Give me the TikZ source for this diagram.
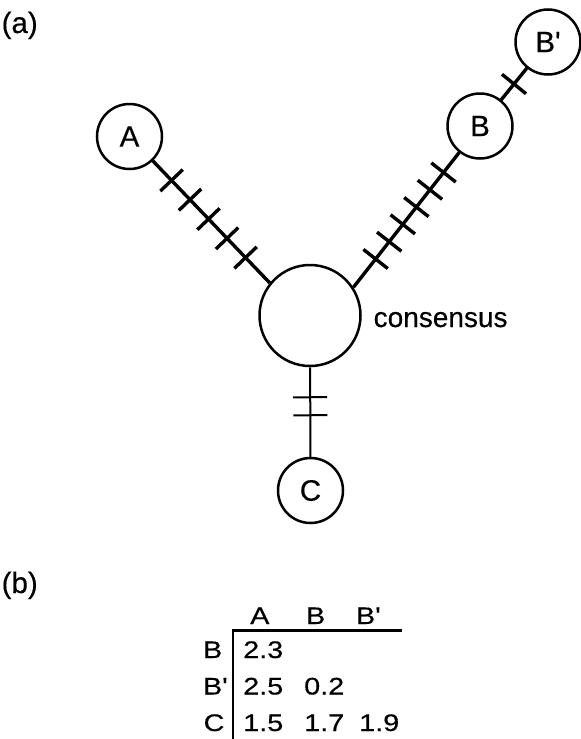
\documentclass[tikz,border=0pt]{standalone}
\usepackage{fontspec}
\usepackage{graphicx}
\newfontfamily\hv{Liberation Sans}[FakeBold=0.4]
\newcommand\lblfont{\hv\fontsize{29.5}{32}\selectfont}
\newcommand\tbfont{\hv\fontsize{24}{26}\selectfont}
\newcommand\wide[1]{\scalebox{1.2}[1]{#1}}
\usetikzlibrary{decorations.markings}

\begin{document}
\begin{tikzpicture}[
  x=1pt, y=-1pt,
  vertex/.style={circle, draw, line width=2.5pt, inner sep=0pt,
                 minimum size=65pt, font=\lblfont},
  hub/.style={vertex, minimum size=101pt},
  link/.style={line width=3.4pt},
  thinlink/.style={line width=2pt},
  bar/.style={postaction={decorate, decoration={markings,
      mark=at position #1 with {\draw[line width=3.4pt] (0pt,-15.5pt) -- (0pt,15.5pt);}}}},
  cbar/.style={postaction={decorate, decoration={markings,
      mark=at position #1 with {\draw[line width=2pt] (0pt,-17pt) -- (0pt,17pt);}}}},
  panel/.style={font=\lblfont, anchor=base west, inner sep=0pt},
  cell/.style={font=\tbfont, anchor=base west, inner sep=0pt},
  rule/.style={line width=2.5pt}
]
\useasboundingbox (0,0) rectangle (581,739);

% panel labels
\node[panel] (pa) at (1.5,33) {(a)};
\node[panel] (pb) at (1.5,593) {(b)};

% network of sequences
\node[hub]    (cons) at (310,315.5) {};
\node[vertex] (A)    at (129.5,136.5) {A};
\node[vertex] (B)    at (480,126) {B};
\node[vertex] (Bp)   at (548,42) {B'};
\node[vertex] (C)    at (310.5,490.5) {C};
\node[panel, font=\hv\fontsize{28}{30}\selectfont] (clabel) at (373.5,327) {consensus};

% branches, one bar per difference
\draw[link, bar=27pt, bar=53.75pt, bar=80.5pt, bar=107.25pt, bar=134pt]
  (A) -- (cons.141);
\draw[link, bar=36pt, bar=58pt, bar=80pt, bar=102pt, bar=124pt, bar=146pt]
  (cons.33) -- (B);
\draw[link, bar=0.5] (B) -- (Bp);
\draw[thinlink, cbar=30pt, cbar=48pt] (cons) -- (C);

% distance table
\coordinate (corner) at (233,630.5);
\coordinate (hend) at (402,630.5);
\coordinate (vend) at (233,739);
\draw[rule] (hend) -- (corner) -- (vend);

\node[cell] (hA)  at (250,624)   {\wide{A}};
\node[cell] (hB)  at (305.8,624) {\wide{B}};
\node[cell] (hBp) at (355.8,624) {\wide{B'}};

\node[cell] (rB)  at (202.8,658)   {\wide{B}};
\node[cell] (rBp) at (202.8,694.5) {\wide{B'}};
\node[cell] (rC)  at (203.5,731)   {\wide{C}};

\node[cell] (dBA)  at (243,658)   {\wide{2.3}};
\node[cell] (dBpA) at (243,694.5) {\wide{2.5}};
\node[cell] (dBpB) at (304,694.5) {\wide{0.2}};
\node[cell] (dCA)  at (243,731)   {\wide{1.5}};
\node[cell] (dCB)  at (304,731)   {\wide{1.7}};
\node[cell] (dCBp) at (359,731)   {\wide{1.9}};
\end{tikzpicture}
\end{document}
